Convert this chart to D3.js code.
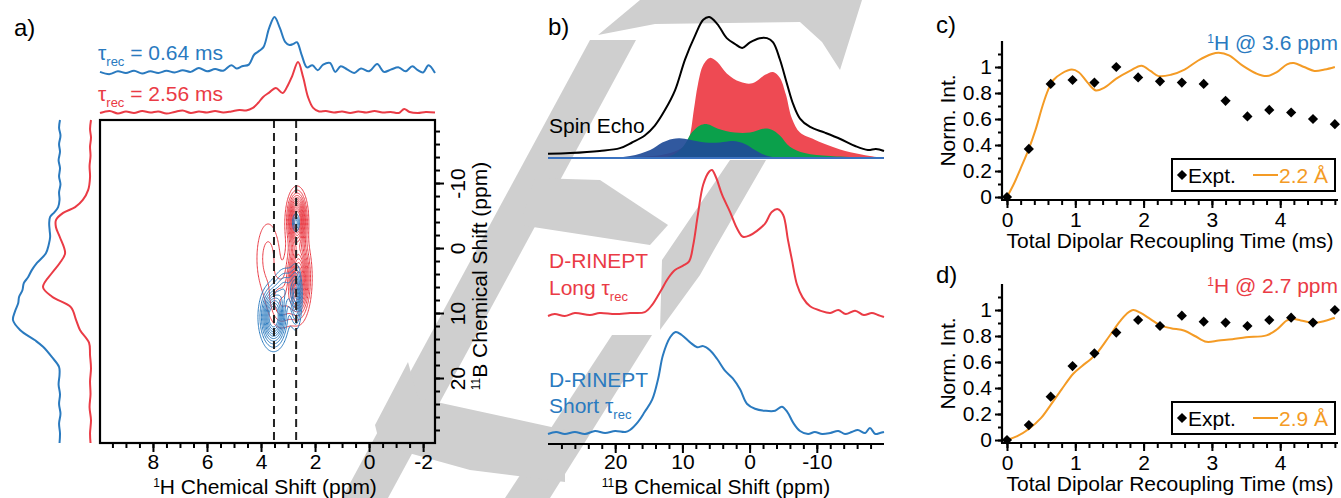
<!DOCTYPE html>
<html>
<head>
<meta charset="utf-8">
<script src="https://cdn.jsdelivr.net/npm/d3@7"></script>
<style>
  body { margin: 0; background: #fff; }
  svg { font-family: "Liberation Sans", Arial, sans-serif; }
</style>
</head>
<body>
<svg id="fig" width="1341" height="498"></svg>
<script>
// ---------- colours ----------
const BLUE = "#2a7abf", RED = "#ea3b45", ORANGE = "#f49b25";

// ---------- panel a: 1D projections (ppm, normalised intensity) ----------
const topBlue = [[9.96,0.02],[9.6,-0.02],[9.3,0.03],[9.0,0.0],[8.7,0.04],[8.4,-0.01],[8.1,0.03],[7.8,0.0],[7.5,0.04],[7.2,0.01],[6.9,0.05],[6.6,0.02],[6.3,0.09],[6.0,0.03],[5.7,0.07],[5.4,0.04],[5.1,0.14],[4.9,0.08],[4.7,0.12],[4.45,0.15],[4.25,0.33],[4.05,0.4],[3.9,0.47],[3.7,0.8],[3.5,1.0],[3.3,0.8],[3.1,0.55],[2.95,0.5],[2.8,0.52],[2.67,0.55],[2.5,0.33],[2.3,0.1],[2.1,0.14],[1.9,0.05],[1.7,0.15],[1.45,0.18],[1.25,0.02],[1.05,0.12],[0.8,0.06],[0.55,0.0],[0.3,0.08],[0.0,0.03],[-0.3,0.16],[-0.55,0.02],[-0.8,0.06],[-1.1,0.1],[-1.35,0.03],[-1.6,0.12],[-1.8,0.05],[-2.0,0.01],[-2.2,0.14],[-2.44,0.0]];
const topRed = [[9.96,0.0],[9.6,0.04],[9.3,-0.01],[9.0,0.03],[8.7,0.0],[8.4,0.04],[8.1,0.01],[7.8,0.03],[7.5,-0.01],[7.2,0.02],[6.9,0.05],[6.6,0.0],[6.3,0.03],[6.0,0.01],[5.7,0.04],[5.4,0.01],[5.1,0.03],[4.8,0.06],[4.55,0.05],[4.3,0.1],[4.1,0.2],[3.93,0.31],[3.7,0.4],[3.45,0.49],[3.2,0.39],[3.0,0.55],[2.85,0.72],[2.63,1.0],[2.44,0.7],[2.26,0.31],[2.07,0.1],[1.85,0.03],[1.6,0.04],[1.3,0.01],[1.0,0.03],[0.7,0.0],[0.4,0.03],[0.1,0.01],[-0.2,0.04],[-0.5,0.01],[-0.8,0.02],[-1.1,0.0],[-1.3,0.08],[-1.5,0.02],[-1.8,0.0],[-2.1,0.02],[-2.44,0.01]];
const leftBlue = [[-19.7,0.0],[-18.5,0.02],[-17.3,-0.01],[-16,0.02],[-14.8,0.0],[-13.5,0.03],[-12.3,0.0],[-11,0.02],[-9.8,-0.01],[-8.6,0.02],[-7.4,0.01],[-6.3,0.04],[-5.5,0.12],[-4.8,0.21],[-3.8,0.23],[-2.7,0.22],[-1.7,0.21],[-0.5,0.24],[0.8,0.3],[2.3,0.49],[3.4,0.6],[4.5,0.68],[5.4,0.77],[6.5,0.8],[7.5,0.87],[8.5,0.89],[9.8,0.96],[11.1,1.0],[12.6,0.85],[14.2,0.53],[15.2,0.36],[16.8,0.17],[18.3,0.02],[19.5,0.01],[21,0.03],[22.5,0.0],[24,0.02],[25.5,-0.01],[27,0.02],[28.5,0.0],[30,0.01]];
const leftRed = [[-19.7,0.0],[-18.3,0.02],[-17,0.0],[-15.6,0.02],[-14.2,0.01],[-12.6,0.03],[-10.9,0.02],[-8.9,0.06],[-7.4,0.17],[-6.3,0.33],[-5.4,0.58],[-4.3,0.73],[-3.2,0.73],[-1.7,0.65],[0.8,0.54],[2.3,0.65],[3.8,0.81],[6.0,1.0],[7.5,0.81],[9.1,0.42],[11.1,0.31],[12.6,0.23],[14.6,0.04],[16.5,0.02],[18.5,0.0],[20.5,0.02],[22.5,0.01],[24.5,0.03],[26.5,0.0],[28.5,0.02],[30,0.01]];

// 2D peaks: [1H ppm, 11B ppm, width 1H, width 11B, height]
const redPeaks = [[2.68,-4.5,0.2,2.4,1.0],[2.62,4.5,0.24,3.4,0.9],[3.75,1.5,0.35,4.5,0.2],[3.25,8.5,0.3,2.5,0.28]];
const bluePeaks = [[3.55,10.5,0.28,2.6,1.0],[2.72,7.5,0.13,2.8,0.55],[2.72,-4.0,0.09,1.0,0.32],[3.1,6.0,0.25,2.0,0.35]];
const redLevels = [0.1,0.17,0.24,0.31,0.38,0.45,0.52,0.59,0.66,0.73,0.8,0.87];
const blueLevels = [0.12,0.2,0.28,0.36,0.44,0.52,0.6,0.68,0.76,0.84];
const cutPositions = [3.52, 2.7];

// ---------- panel b: 11B spectra (ppm, normalised intensity) ----------
const spinEcho = [[30,0.03],[26.7,0.035],[22.3,0.05],[19.3,0.07],[17.5,0.11],[15.6,0.16],[14.1,0.23],[12.6,0.34],[11.1,0.48],[9.6,0.7],[8.1,0.87],[6.9,0.98],[6.0,1.0],[4.8,0.95],[3.4,0.85],[2.2,0.81],[1.1,0.78],[-0.06,0.82],[-1.5,0.85],[-2.6,0.85],[-3.5,0.82],[-4.5,0.7],[-5.6,0.52],[-6.5,0.38],[-7.5,0.28],[-9.0,0.22],[-11.2,0.18],[-13.5,0.135],[-15.7,0.085],[-17.6,0.057],[-18.8,0.064],[-20,0.05]];
const fitRed = [[30,0],[22.3,0],[16.3,0.007],[11.8,0.035],[9.6,0.09],[8.9,0.16],[8.3,0.34],[7.7,0.52],[6.9,0.66],[5.9,0.71],[4.8,0.68],[3.4,0.6],[1.4,0.54],[-0.4,0.53],[-2.3,0.59],[-3.5,0.61],[-4.5,0.57],[-5.4,0.45],[-6.3,0.28],[-7.5,0.18],[-9.7,0.13],[-12.0,0.085],[-15,0.04],[-17.9,0.014],[-20,0]];
const fitGreen = [[30,0],[16.3,0],[11.8,0.014],[9.9,0.08],[8.6,0.18],[7.4,0.23],[6.3,0.24],[4.8,0.21],[2.2,0.18],[-0.06,0.18],[-2.3,0.21],[-3.3,0.2],[-4.5,0.16],[-6.0,0.08],[-8.2,0.035],[-12.0,0.014],[-20,0]];
const fitBlue = [[30,0],[22.3,0],[17.8,0.014],[14.8,0.057],[13.0,0.11],[11.5,0.135],[10.4,0.14],[8.9,0.13],[6.6,0.11],[4.4,0.11],[2.5,0.12],[0.7,0.1],[-0.8,0.057],[-2.7,0.014],[-6.0,0],[-20,0]];
const rineptLong = [[30,-0.007],[29,0.007],[27.5,-0.007],[26,0.014],[23.75,0],[22.3,0.014],[20,0.007],[17.8,0.014],[15.6,0.02],[14.5,0.07],[13.3,0.16],[12.1,0.255],[11.1,0.31],[9.9,0.34],[9.0,0.37],[8.4,0.48],[7.7,0.69],[6.9,0.9],[6.0,0.99],[5.6,1.0],[5.0,0.95],[4.1,0.83],[2.9,0.71],[1.9,0.6],[1.0,0.54],[-0.06,0.55],[-1.1,0.58],[-2.3,0.63],[-3.3,0.71],[-4.2,0.73],[-5.0,0.69],[-5.7,0.52],[-6.3,0.38],[-7.05,0.21],[-7.9,0.12],[-9.0,0.06],[-10.5,0.03],[-12.0,0.014],[-13.2,0.035],[-14.3,0.007],[-15.7,0.03],[-17.0,0],[-18.2,0.014],[-19.1,0],[-20,-0.014]];
const rineptShort = [[30,-0.01],[28.8,0.01],[27.5,-0.01],[26,0.01],[24.5,-0.01],[23,0.02],[21.5,0],[20,0.02],[18.5,0.01],[17.8,0.03],[16.6,0.11],[15.6,0.21],[14.5,0.33],[13.6,0.54],[12.9,0.77],[11.8,0.95],[11.0,1.0],[10.1,0.97],[8.9,0.9],[7.8,0.85],[6.9,0.86],[5.9,0.82],[4.8,0.73],[3.7,0.62],[2.5,0.54],[1.4,0.43],[0.4,0.29],[-0.8,0.24],[-2.3,0.22],[-3.8,0.22],[-4.8,0.26],[-5.6,0.21],[-6.5,0.1],[-7.5,0.02],[-8.7,-0.01],[-9.7,0.01],[-10.8,-0.01],[-12.0,0],[-13.2,0.02],[-14.2,-0.01],[-15.2,0.01],[-16.1,0.03],[-17.2,0],[-17.9,0.05],[-18.7,-0.01],[-19.4,0],[-20,0.01]];

// ---------- panels c, d: build-up curves ----------
const recTimes = [0,0.32,0.64,0.96,1.28,1.6,1.92,2.24,2.56,2.88,3.2,3.52,3.84,4.16,4.48,4.8];
const exptC = [0,0.37,0.87,0.9,0.88,1.0,0.92,0.89,0.88,0.87,0.74,0.62,0.67,0.65,0.6,0.56];
const exptD = [0,0.115,0.333,0.569,0.667,0.826,0.923,0.877,0.956,0.91,0.903,0.877,0.923,0.941,0.903,1.0];
const simC = [[0,0],[0.1,0.1],[0.2,0.22],[0.32,0.37],[0.42,0.52],[0.52,0.7],[0.6,0.82],[0.68,0.9],[0.8,0.95],[0.95,0.98],[1.05,0.96],[1.18,0.88],[1.3,0.82],[1.42,0.84],[1.6,0.91],[1.8,0.97],[1.97,1.01],[2.1,0.97],[2.22,0.93],[2.4,0.94],[2.6,0.98],[2.8,1.05],[3.0,1.1],[3.1,1.11],[3.25,1.09],[3.45,1.01],[3.65,0.95],[3.8,0.93],[3.95,0.96],[4.1,1.02],[4.2,1.03],[4.35,1.0],[4.5,0.97],[4.65,0.98],[4.8,1.0]];
const simD = [[0,0],[0.15,0.03],[0.32,0.085],[0.5,0.17],[0.64,0.27],[0.8,0.39],[0.97,0.51],[1.1,0.57],[1.22,0.62],[1.32,0.67],[1.5,0.8],[1.65,0.91],[1.75,0.97],[1.85,1.0],[1.95,0.98],[2.1,0.93],[2.25,0.88],[2.4,0.86],[2.6,0.84],[2.75,0.8],[2.92,0.755],[3.1,0.765],[3.3,0.775],[3.5,0.79],[3.8,0.805],[3.95,0.85],[4.1,0.92],[4.2,0.93],[4.3,0.92],[4.5,0.9],[4.65,0.915],[4.8,0.94]];

// watermark outline (page pixels)
const watermark = [
  [[598,35],[640,0],[862,0],[840,70],[822,42],[800,22],[655,24]],
  [[590,40],[636,40],[388,498],[342,498]],
  [[535,178],[600,180],[668,225],[650,245],[520,225]],
  [[730,160],[766,160],[714,250],[700,275],[660,330],[662,260]],
  [[612,335],[652,335],[550,498],[505,498]],
  [[375,425],[408,362],[418,398],[565,430],[565,482],[470,470],[380,445]]
];

const svg = d3.select("#fig");
const FS = 21;

svg.append("g").selectAll("polygon").data(watermark).enter().append("polygon")
  .attr("points", (d) => d.join(" ")).attr("fill", "#cfcfcf");

function styleTicks(g) {
  g.select(".domain").remove();
  g.selectAll("line").attr("stroke", "#000").attr("stroke-width", 2);
  g.selectAll("text").style("font-size", FS + "px").attr("fill", "#000");
}

function label(sel, x, y, parts, opts = {}) {
  const t = sel.append("text").attr("x", x).attr("y", y).style("font-size", FS + "px")
    .attr("fill", opts.color || "#000").attr("text-anchor", opts.anchor || "start");
  if (opts.rotate) t.attr("transform", `rotate(-90,${x},${y})`);
  parts.forEach((p) => {
    const s = t.append("tspan").text(p.t);
    if (p.sub) s.style("font-size", "13px").attr("dy", 6);
    else if (p.sup) s.style("font-size", "12px").attr("dy", -7);
    else if (p.back) s.attr("dy", p.back);
  });
  return t;
}

createPanelA();
createPanelB();
createBuildUp(exptC, simC, 41, 200, "c)", 33, "3.6", BLUE, "2.2 Å");
createBuildUp(exptD, simD, 284, 443, "d)", 283, "2.7", RED, "2.9 Å");

function createPanelA() {
  const g = svg.append("g");
  const x = d3.scaleLinear().domain([9.96, -2.44]).range([100, 435]);
  const y = d3.scaleLinear().domain([-19.7, 30]).range([120, 443]);

  // contour map
  const n = 161, m = 171, h0 = 5.0, dh = -0.025, b0 = -14, db = 0.2;
  const path = d3.geoPath(d3.geoTransform({
    point(i, j) { this.stream.point(x(h0 + i * dh), y(b0 + j * db)); }
  }));
  function surface(peaks) {
    const v = new Array(n * m);
    for (let j = 0; j < m; j++) for (let i = 0; i < n; i++) {
      const h = h0 + i * dh, b = b0 + j * db;
      let s = 0;
      peaks.forEach(([ph, pb, sh, sb, a]) => {
        s += a * Math.exp(-0.5 * (((h - ph) / sh) ** 2 + ((b - pb) / sb) ** 2));
      });
      v[i + j * n] = s;
    }
    return v;
  }
  [[redPeaks, redLevels, RED], [bluePeaks, blueLevels, BLUE]].forEach(([peaks, levels, col]) => {
    g.append("g").selectAll("path")
      .data(d3.contours().size([n, m]).thresholds(levels)(surface(peaks)))
      .enter().append("path").attr("d", path)
      .attr("fill", "none").attr("stroke", col).attr("stroke-width", 1);
  });

  g.selectAll(".cut").data(cutPositions).enter().append("line")
    .attr("x1", (d) => x(d)).attr("x2", (d) => x(d)).attr("y1", 120).attr("y2", 443)
    .attr("stroke", "#222").attr("stroke-width", 2).attr("stroke-dasharray", "8,5");

  g.append("rect").attr("x", 100).attr("y", 120).attr("width", 335).attr("height", 323)
    .attr("fill", "none").attr("stroke", "#000").attr("stroke-width", 2.2);

  // projections
  const topB = d3.scaleLinear().domain([0, 1]).range([73, 17]);
  const topR = d3.scaleLinear().domain([0, 1]).range([113, 62]);
  const leftB = d3.scaleLinear().domain([0, 1]).range([60, 13]);
  const leftR = d3.scaleLinear().domain([0, 1]).range([91, 43]);
  const curve = d3.curveCatmullRom.alpha(0.5);
  [[topBlue, topB, BLUE], [topRed, topR, RED]].forEach(([data, ys, col]) => {
    g.append("path").datum(data).attr("fill", "none").attr("stroke", col).attr("stroke-width", 2)
      .attr("d", d3.line().x((d) => x(d[0])).y((d) => ys(d[1])).curve(curve));
  });
  [[leftBlue, leftB, BLUE], [leftRed, leftR, RED]].forEach(([data, xs, col]) => {
    g.append("path").datum(data).attr("fill", "none").attr("stroke", col).attr("stroke-width", 2)
      .attr("d", d3.line().x((d) => xs(d[1])).y((d) => y(d[0])).curve(curve));
  });

  // axes
  g.append("g").attr("transform", "translate(0,443)")
    .call(d3.axisBottom(x).tickValues(d3.range(-2, 10, 0.5)).tickSize(5).tickFormat(""))
    .call(styleTicks);
  g.append("g").attr("transform", "translate(0,443)")
    .call(d3.axisBottom(x).tickValues([8, 6, 4, 2, 0, -2]).tickSize(9).tickPadding(2).tickFormat((d) => String(d)))
    .call(styleTicks);
  g.append("g").attr("transform", "translate(435,0)")
    .call(d3.axisRight(y).tickValues(d3.range(-18, 30, 2)).tickSize(5).tickFormat(""))
    .call(styleTicks);
  g.append("g").attr("transform", "translate(435,0)")
    .call(d3.axisRight(y).tickValues([-10, 0, 10, 20]).tickSize(9).tickFormat((d) => String(d)))
    .call(styleTicks)
    .selectAll("text").attr("transform", "rotate(-90)").attr("x", 0).attr("y", 30).attr("dy", 0)
    .style("text-anchor", "middle");

  label(g, 265, 494, [{ t: "1", sup: true }, { t: "H Chemical Shift (ppm)", back: 7 }], { anchor: "middle" });
  label(g, 487, 276, [{ t: "11", sup: true }, { t: "B Chemical Shift (ppm)", back: 7 }], { anchor: "middle", rotate: true });
  label(g, 98, 60, [{ t: "τ" }, { t: "rec", sub: true }, { t: " = 0.64 ms", back: -6 }], { color: BLUE });
  label(g, 98, 101, [{ t: "τ" }, { t: "rec", sub: true }, { t: " = 2.56 ms", back: -6 }], { color: RED });
  g.append("text").attr("x", 14).attr("y", 36).style("font-size", "24px").text("a)");
}

function createPanelB() {
  const g = svg.append("g");
  const x = d3.scaleLinear().domain([30, -20]).range([548, 884]);
  const ySE = d3.scaleLinear().domain([0, 1]).range([158, 17]);
  const yLong = d3.scaleLinear().domain([0, 1]).range([315, 170]);
  const yShort = d3.scaleLinear().domain([0, 1]).range([433, 332]);
  const curve = d3.curveCatmullRom.alpha(0.5);

  const area = d3.area().x((d) => x(d[0])).y0(ySE(0)).y1((d) => ySE(d[1])).curve(curve);
  g.append("path").datum(fitRed).attr("fill", "#ee4a53").attr("d", area);
  g.append("path").datum(fitGreen).attr("fill", "#0ba04b").attr("d", area);
  g.append("path").datum(fitBlue).attr("fill", "#1f4b97").attr("fill-opacity", 0.92).attr("d", area);
  g.append("line").attr("x1", x(30)).attr("x2", x(-20)).attr("y1", ySE(0)).attr("y2", ySE(0))
    .attr("stroke", "#3a72c0").attr("stroke-width", 2);

  [[spinEcho, ySE, "#000"], [rineptLong, yLong, RED], [rineptShort, yShort, BLUE]].forEach(([data, ys, col]) => {
    g.append("path").datum(data).attr("fill", "none").attr("stroke", col).attr("stroke-width", 2)
      .attr("d", d3.line().x((d) => x(d[0])).y((d) => ys(d[1])).curve(curve));
  });

  g.append("line").attr("x1", 548).attr("x2", 884).attr("y1", 444).attr("y2", 444)
    .attr("stroke", "#000").attr("stroke-width", 2.2);
  g.append("g").attr("transform", "translate(0,444)")
    .call(d3.axisBottom(x).tickValues(d3.range(-18, 30, 2)).tickSize(5).tickFormat(""))
    .call(styleTicks);
  g.append("g").attr("transform", "translate(0,444)")
    .call(d3.axisBottom(x).tickValues([20, 10, 0, -10]).tickSize(9).tickPadding(1).tickFormat((d) => String(d)))
    .call(styleTicks);

  label(g, 716, 494, [{ t: "11", sup: true }, { t: "B Chemical Shift (ppm)", back: 7 }], { anchor: "middle" });
  label(g, 549, 133, [{ t: "Spin Echo" }]);
  label(g, 549, 268, [{ t: "D-RINEPT" }], { color: RED });
  label(g, 549, 295, [{ t: "Long τ" }, { t: "rec", sub: true }], { color: RED });
  label(g, 549, 387, [{ t: "D-RINEPT" }], { color: BLUE });
  label(g, 549, 413, [{ t: "Short τ" }, { t: "rec", sub: true }], { color: BLUE });
  g.append("text").attr("x", 548).attr("y", 35).style("font-size", "24px").text("b)");
}

function createBuildUp(expt, sim, top, bottom, tag, tagY, ppm, col, dist) {
  const g = svg.append("g");
  const x = d3.scaleLinear().domain([-0.073, 4.846]).range([1002, 1338]);
  const y = d3.scaleLinear().domain([-0.023, 1.2]).range([bottom, top]);

  g.append("path").datum(sim).attr("fill", "none").attr("stroke", ORANGE).attr("stroke-width", 2)
    .attr("d", d3.line().x((d) => x(d[0])).y((d) => y(d[1])).curve(d3.curveCatmullRom.alpha(0.5)));
  const diamond = d3.symbol().type(d3.symbolSquare).size(52);
  g.selectAll(".pt").data(expt).enter().append("path")
    .attr("d", diamond)
    .attr("transform", (d, i) => `translate(${x(recTimes[i])},${y(d)}) rotate(45)`)
    .attr("fill", "#000");

  g.append("line").attr("x1", 1002).attr("x2", 1002).attr("y1", top).attr("y2", bottom)
    .attr("stroke", "#000").attr("stroke-width", 2.2);
  g.append("line").attr("x1", 1001).attr("x2", 1338).attr("y1", bottom).attr("y2", bottom)
    .attr("stroke", "#000").attr("stroke-width", 2.2);

  g.append("g").attr("transform", `translate(0,${bottom})`)
    .call(d3.axisBottom(x).tickValues(d3.range(0, 4.81, 0.2)).tickSize(5).tickFormat(""))
    .call(styleTicks);
  g.append("g").attr("transform", `translate(0,${bottom})`)
    .call(d3.axisBottom(x).tickValues([0, 1, 2, 3, 4]).tickSize(8).tickPadding(4).tickFormat(d3.format("d")))
    .call(styleTicks);
  g.append("g").attr("transform", "translate(1002,0)")
    .call(d3.axisLeft(y).tickValues(d3.range(0, 1.15, 0.1)).tickSize(4).tickFormat(""))
    .call(styleTicks);
  g.append("g").attr("transform", "translate(1002,0)")
    .call(d3.axisLeft(y).tickValues([0, 0.2, 0.4, 0.6, 0.8, 1]).tickSize(7).tickPadding(3)
      .tickFormat((d) => String(+d.toFixed(1))))
    .call(styleTicks);

  label(g, 1170, bottom + 48, [{ t: "Total Dipolar Recoupling Time (ms)" }], { anchor: "middle" });
  label(g, 955, (top + bottom) / 2, [{ t: "Norm. Int." }], { anchor: "middle", rotate: true });
  label(g, 1338, top + 9, [{ t: "1", sup: true }, { t: `H @ ${ppm} ppm`, back: 7 }], { anchor: "end", color: col });
  g.append("text").attr("x", 936).attr("y", tagY).style("font-size", "24px").text(tag);

  // legend
  const ly = bottom - 25;
  g.append("rect").attr("x", 1172).attr("y", ly - 16).attr("width", 163).attr("height", 32)
    .attr("fill", "#fff").attr("stroke", "#000").attr("stroke-width", 2);
  g.append("path").attr("d", diamond).attr("transform", `translate(1182,${ly}) rotate(45)`).attr("fill", "#000");
  label(g, 1188, ly + 8, [{ t: "Expt." }]);
  g.append("line").attr("x1", 1253).attr("x2", 1278).attr("y1", ly).attr("y2", ly)
    .attr("stroke", ORANGE).attr("stroke-width", 2);
  label(g, 1279, ly + 8, [{ t: dist }], { color: ORANGE });
}
</script>
</body>
</html>
